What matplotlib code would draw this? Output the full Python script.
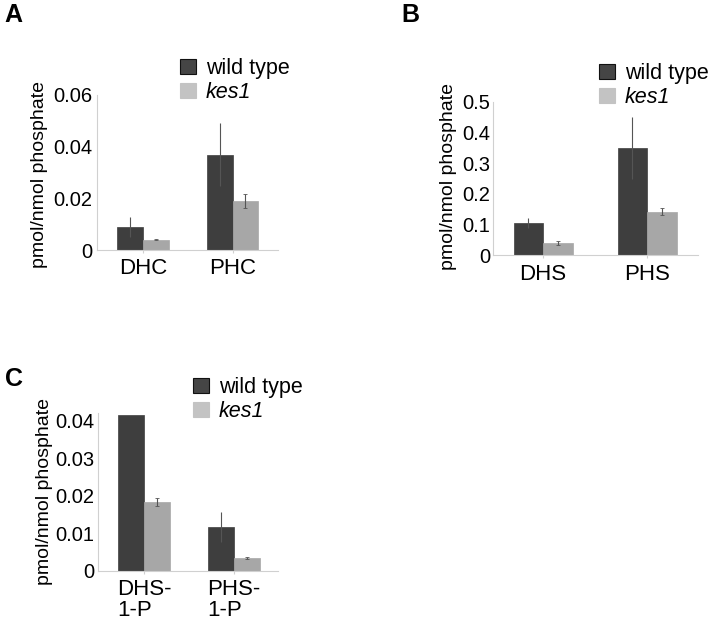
import matplotlib
matplotlib.use("Agg")
import matplotlib.pyplot as plt
from matplotlib.patches import Patch
import numpy as np

plt.rcParams['font.family'] = ['Liberation Sans', 'DejaVu Sans']

series_names = ["wild type", "kes1"]

# Panel A
cats_a = ["DHC", "PHC"]
wt_a = [0.0089, 0.0368]
wt_a_err = [0.0038, 0.0121]
kes_a = [0.0040, 0.0188]
kes_a_err = [0.0003, 0.0027]
yticks_a = [0, 0.02, 0.04, 0.06]
yticklabels_a = ["0", "0.02", "0.04", "0.06"]

# Panel B
cats_b = ["DHS", "PHS"]
wt_b = [0.104, 0.350]
wt_b_err = [0.016, 0.100]
kes_b = [0.039, 0.142]
kes_b_err = [0.006, 0.011]
yticks_b = [0, 0.1, 0.2, 0.3, 0.4, 0.5]
yticklabels_b = ["0", "0.1", "0.2", "0.3", "0.4", "0.5"]

# Panel C
cats_c = ["DHS-\n1-P", "PHS-\n1-P"]
wt_c = [0.0415, 0.0116]
wt_c_err = [0.0, 0.0040]
kes_c = [0.0183, 0.0034]
kes_c_err = [0.0011, 0.0003]
yticks_c = [0, 0.01, 0.02, 0.03, 0.04]
yticklabels_c = ["0", "0.01", "0.02", "0.03", "0.04"]

WT_COLOR = "#3e3e3e"
KES_COLOR = "#a7a7a7"
LEG_WT = "#454545"
LEG_KES = "#c3c3c3"
ERR_COLOR = "#555555"
SPINE = "#d0d0d0"

W, H = 714, 620
fig = plt.figure(figsize=(W / 100, H / 100), dpi=100)


def make_panel(rect, cats, wt, wterr, kes, keserr, yt, ytl, ylim, xlim, bw,
               ylab_xy, leg_xy, letter, letter_xy, ypad):
    ax = fig.add_axes(rect)
    x = np.arange(len(cats))
    ax.bar(x - bw / 2, wt, bw, color=WT_COLOR, edgecolor=WT_COLOR, linewidth=0.5, zorder=2)
    ax.bar(x + bw / 2, kes, bw, color=KES_COLOR, edgecolor=KES_COLOR, linewidth=0.5, zorder=2)
    ax.errorbar(x - bw / 2, wt, yerr=wterr, fmt='none', ecolor=ERR_COLOR,
                elinewidth=0.8, capsize=0, zorder=3)
    ax.errorbar(x + bw / 2, kes, yerr=keserr, fmt='none', ecolor=ERR_COLOR,
                elinewidth=0.8, capsize=1.5, capthick=0.6, zorder=3)
    ax.set_xlim(*xlim)
    ax.set_ylim(*ylim)
    ax.set_yticks(yt)
    ax.set_yticklabels(ytl, fontsize=14.5)
    ax.set_xticks(x)
    ax.set_xticklabels(cats, fontsize=16, linespacing=1.0, multialignment='left')
    ax.tick_params(axis='y', length=0, pad=ypad)
    ax.tick_params(axis='x', length=2, color=SPINE, pad=4)
    for s in ['top', 'right']:
        ax.spines[s].set_visible(False)
    for s in ['left', 'bottom']:
        ax.spines[s].set_color(SPINE)
        ax.spines[s].set_linewidth(0.8)
    ax.set_ylabel("pmol/nmol phosphate", fontsize=14)
    ax.yaxis.set_label_coords(*ylab_xy)
    handles = [Patch(facecolor=LEG_WT, edgecolor="#111111", linewidth=0.8),
               Patch(facecolor=LEG_KES, edgecolor=LEG_KES, linewidth=0.8)]
    leg = fig.legend(handles, series_names, loc='upper left',
                     bbox_to_anchor=(leg_xy[0] / W, 1 - leg_xy[1] / H),
                     bbox_transform=fig.transFigure, frameon=False,
                     fontsize=15.5, borderpad=0, borderaxespad=0,
                     handlelength=0.75, handleheight=0.7, handletextpad=0.45,
                     labelspacing=0.15)
    leg.get_texts()[1].set_fontstyle('italic')
    fig.text(letter_xy[0] / W, 1 - letter_xy[1] / H, letter, fontsize=18,
             fontweight='bold', ha='left', va='top')
    return ax


make_panel([97 / W, 1 - 250 / H, 181 / W, 155.5 / H], cats_a, wt_a, wt_a_err,
           kes_a, kes_a_err, yticks_a, yticklabels_a, (0, 0.06), (-0.514, 1.508),
           0.285, (-0.27, 0.487), (180, 58), "A", (4, 3), 3.5)

make_panel([492.7 / W, 1 - 255.3 / H, 205.3 / W, 153.6 / H], cats_b, wt_b, wt_b_err,
           kes_b, kes_b_err, yticks_b, yticklabels_b, (0, 0.5), (-0.484, 1.49),
           0.284, (-0.174, 0.514), (599, 63), "B", (401, 3), 2)

make_panel([98.3 / W, 1 - 571 / H, 179.7 / W, 157.7 / H], cats_c, wt_c, wt_c_err,
           kes_c, kes_c_err, yticks_c, yticklabels_c, (0, 0.042), (-0.508, 1.489),
           0.289, (-0.252, 0.504), (193, 377), "C", (5, 367), 3)

fig.savefig("out.png", dpi=100)
